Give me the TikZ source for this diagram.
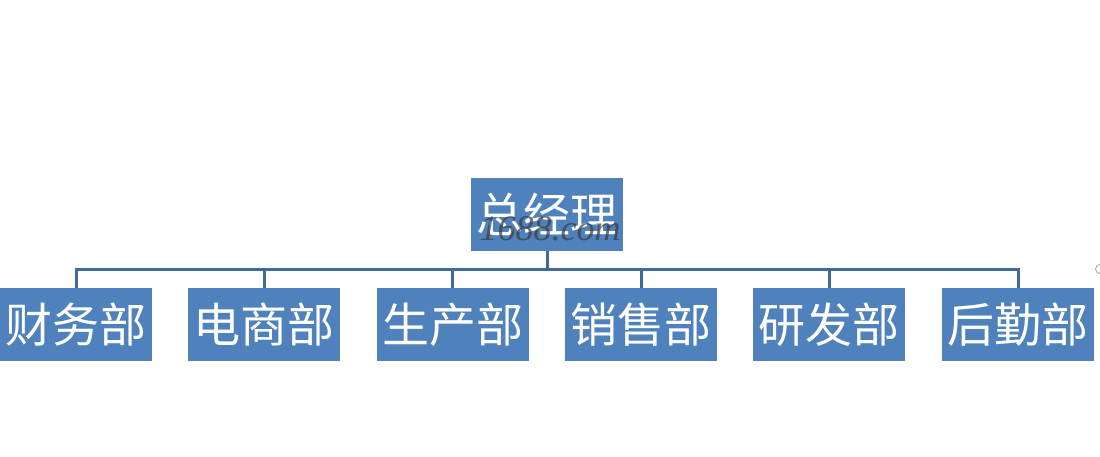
\documentclass[tikz,border=0pt]{standalone}
\usepackage{fontspec}
\newfontfamily\cjk{Noto Sans CJK SC}
\newfontfamily\wmfont{Liberation Serif}
\definecolor{boxblue}{HTML}{4F81BD}
\definecolor{linkblue}{HTML}{41699A}
\definecolor{wmgray}{HTML}{3A3A3A}
\tikzset{
  dept/.style={fill=boxblue, draw=none, minimum width=152pt, minimum height=73pt,
    inner sep=0pt, text=white, font=\cjk\fontsize{47}{47}\selectfont},
  link/.style={draw=linkblue, line width=3pt},
  handle/.style={circle, draw=gray!70, line width=0.8pt, minimum size=9pt, inner sep=0pt}
}
\begin{document}
\begin{tikzpicture}[x=1pt,y=-1pt]
\useasboundingbox (0,0) rectangle (1100,456);
\node[dept] (top) at (547,214) {总经理};
\node[font=\wmfont\itshape\fontsize{36}{36}\selectfont, text=wmgray, opacity=0.7] (wm) at (550,229) {1688.com};
\node[dept] (b1) at (76,324.5) {财务部};
\node[dept] (b2) at (264,324.5) {电商部};
\node[dept] (b3) at (452.5,324.5) {生产部};
\node[dept] (b4) at (641,324.5) {销售部};
\node[dept] (b5) at (829,324.5) {研发部};
\node[dept] (b6) at (1018,324.5) {后勤部};
\coordinate (bus) at (547,269);
\draw[link] (top.south) -- (bus);
\draw[link] (b1.north) |- (b6.north |- bus) -- (b6.north);
\foreach \n in {b2,b3,b4,b5}{
  \draw[link] (\n.north) -- (\n.north |- bus);
}
\node[handle] (h) at (1100,269) {};
\end{tikzpicture}
\end{document}
